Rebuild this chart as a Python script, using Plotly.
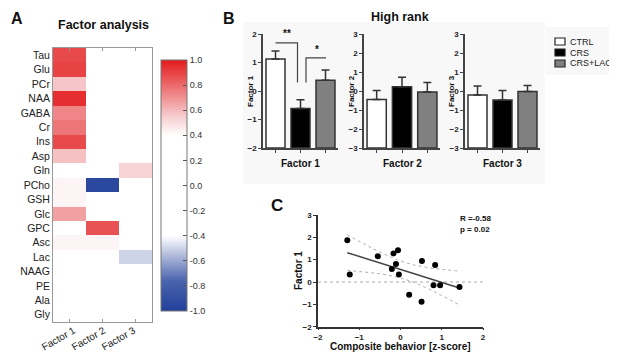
import numpy as np
import plotly.graph_objects as go

# The page body has an 8px margin, so the figure is drawn 8px smaller and every
# reference pixel position is shifted by that margin.
OFF = 8
W, H = 617 - OFF, 352 - OFF
def px(x): return (x - OFF) / W
def py(y): return 1 - (y - OFF) / H

FONT = "Arial, Liberation Sans, sans-serif"

# ---------------- Panel A data ----------------
metabolites = ["Tau", "Glu", "PCr", "NAA", "GABA", "Cr", "Ins", "Asp", "Gln", "PCho",
               "GSH", "Glc", "GPC", "Asc", "Lac", "NAAG", "PE", "Ala", "Gly"]
factors = ["Factor 1", "Factor 2", "Factor 3"]
factor1_load = [0.88, 0.90, 0.57, 0.95, 0.73, 0.77, 0.88, 0.58, 0, 0.43,
                0.43, 0.66, 0, 0.43, 0, 0, 0, 0, 0]
factor2_load = [0, 0, 0, 0, 0, 0, 0, 0, 0, -0.95,
                0, 0, 0.86, 0.43, 0, 0, 0, 0, 0]
factor3_load = [0, 0, 0, 0, 0, 0, 0, 0, 0.53, 0,
                0, 0, 0, 0, -0.50, 0, 0, 0, 0]
cbar_ticks = [1.0, 0.8, 0.6, 0.4, 0.2, 0.0, -0.2, -0.4, -0.6, -0.8, -1.0]

# ---------------- Panel B data ----------------
groups = ["CTRL", "CRS", "CRS+LAC"]
group_colors = ["#ffffff", "#000000", "#808080"]
f1_mean = [1.12, -0.61, 0.38]
f1_err = [0.28, 0.30, 0.36]
f2_mean = [-0.45, 0.23, -0.05]
f2_err = [0.48, 0.50, 0.50]
f3_mean = [-0.21, -0.48, -0.02]
f3_err = [0.47, 0.50, 0.31]

# ---------------- Panel C data ----------------
comp_behavior = [-1.29, -1.23, -0.55, -0.17, -0.06, -0.21, -0.11, -0.04, 0.21, 0.52,
                 0.51, 0.84, 0.80, 0.96, 1.43]
factor1_score = [1.87, 0.34, 1.15, 1.28, 1.42, 0.58, 0.81, 0.34, -0.57, 0.94,
                 -0.88, 0.76, -0.15, -0.15, -0.22]
t_crit = 2.160  # t(0.975, n-2 = 13)

fig = go.Figure()

# ---------- Heatmap ----------
z = np.array([factor1_load, factor2_load, factor3_load]).T
cscale = [[0.0, "#21409a"], [0.12, "#4a64ad"], [0.3, "#ffffff"], [0.7, "#ffffff"],
          [0.78, "#f6c9cb"], [1.0, "#e31a1c"]]
fig.add_trace(go.Heatmap(
    z=z, x=factors, y=metabolites, zmin=-1, zmax=1, colorscale=cscale,
    xaxis="x", yaxis="y", xgap=0, ygap=0, hoverinfo="skip",
    colorbar=dict(x=px(161), xanchor="left", xpad=0, ypad=0,
                  y=py(185.5), yanchor="middle", len=251, lenmode="pixels",
                  thickness=26, thicknessmode="pixels",
                  outlinecolor="#777", outlinewidth=1,
                  tickvals=cbar_ticks, ticktext=[f"{v:.1f}" for v in cbar_ticks],
                  ticks="inside", ticklen=4, tickcolor="#555",
                  tickfont=dict(family=FONT, size=9, color="#333")),
))

# ---------- Bar subplots ----------
bar_sets = [(f1_mean, f1_err, "x2", "y2", -2), (f2_mean, f2_err, "x3", "y3", -3),
            (f3_mean, f3_err, "x4", "y4", -3)]
for means, errs, xa, ya, ymin in bar_sets:
    fig.add_trace(go.Bar(
        x=groups, y=[m - ymin for m in means], base=[ymin] * 3,
        marker=dict(color=group_colors, line=dict(color="#333", width=1.5)),
        xaxis=xa, yaxis=ya, showlegend=False, hoverinfo="skip"))
    fig.add_trace(go.Scatter(
        x=groups, y=means, mode="markers", marker=dict(size=1, opacity=0),
        error_y=dict(type="data", array=errs, arrayminus=[0] * 3, symmetric=False,
                     color="#333", thickness=1.5, width=4),
        xaxis=xa, yaxis=ya, showlegend=False, hoverinfo="skip"))

# ---------- Scatter C ----------
xs = np.array(comp_behavior)
ys = np.array(factor1_score)
n = len(xs)
slope, intercept = np.polyfit(xs, ys, 1)
xm = xs.mean()
sxx = ((xs - xm) ** 2).sum()
se = np.sqrt(((ys - (slope * xs + intercept)) ** 2).sum() / (n - 2))
xg = np.linspace(xs.min(), xs.max(), 60)
yfit = slope * xg + intercept
band = t_crit * se * np.sqrt(1 / n + (xg - xm) ** 2 / sxx)

fig.add_trace(go.Scatter(x=[-2, 2], y=[0, 0], mode="lines",
                         line=dict(color="#aaa", width=1, dash="dot"),
                         xaxis="x5", yaxis="y5", showlegend=False, hoverinfo="skip"))
for sgn in (1, -1):
    fig.add_trace(go.Scatter(x=xg, y=yfit + sgn * band, mode="lines",
                             line=dict(color="#b0b0b0", width=1, dash="dot"),
                             xaxis="x5", yaxis="y5", showlegend=False, hoverinfo="skip"))
fig.add_trace(go.Scatter(x=xg, y=yfit, mode="lines", line=dict(color="#444", width=1.5),
                         xaxis="x5", yaxis="y5", showlegend=False, hoverinfo="skip"))
fig.add_trace(go.Scatter(x=xs, y=ys, mode="markers", marker=dict(color="black", size=6),
                         xaxis="x5", yaxis="y5", showlegend=False, hoverinfo="skip"))

# ---------- Layout ----------
tickf = dict(family=FONT, size=8, color="#222", weight="bold")
bar_x = dict(type="category", showline=True, linecolor="#444", linewidth=1.5,
             ticks="outside", ticklen=3, tickcolor="#444", showticklabels=False,
             showgrid=False, zeroline=False, fixedrange=True, automargin=False)
def bar_y(rng, dtick, anchor):
    return dict(range=rng, dtick=dtick, showline=True, linecolor="#444", linewidth=1.5,
                ticks="outside", ticklen=3, tickcolor="#444", tickfont=tickf,
                showgrid=False, zeroline=False, anchor=anchor, domain=[py(148), py(34)],
                automargin=False)

layout = dict(
    template="none",
    width=W, height=H, margin=dict(l=0, r=0, t=0, b=0, autoexpand=False),
    paper_bgcolor="white", plot_bgcolor="rgba(0,0,0,0)",
    bargap=0.24, showlegend=False, font=dict(family=FONT),
    xaxis=dict(domain=[px(53), px(152)], anchor="y", showline=True, mirror="ticks",
               linecolor="#999", linewidth=1, ticks="inside", ticklen=3, tickcolor="#999",
               showticklabels=False, showgrid=False, zeroline=False, automargin=False),
    yaxis=dict(domain=[py(322), py(48)], anchor="x", autorange="reversed", showline=True,
               mirror=True, linecolor="#999", linewidth=1, ticks="",
               tickfont=dict(family=FONT, size=10.5, color="#222"),
               showgrid=False, zeroline=False, automargin=False),
    xaxis2=dict(bar_x, domain=[px(263), px(338)], anchor="y2"),
    yaxis2=bar_y([-2, 2], 1, "x2"),
    xaxis3=dict(bar_x, domain=[px(364), px(440)], anchor="y3"),
    yaxis3=bar_y([-3, 3], 1, "x3"),
    xaxis4=dict(bar_x, domain=[px(465), px(540)], anchor="y4"),
    yaxis4=bar_y([-3, 3], 1, "x4"),
    xaxis5=dict(domain=[px(318), px(483)], anchor="y5", range=[-2, 2], dtick=1,
                showline=True, linecolor="#333", linewidth=1.5, ticks="outside", ticklen=2,
                tickcolor="#333", tickfont=tickf, showgrid=False, zeroline=False,
                automargin=False),
    yaxis5=dict(domain=[py(326.7), py(215)], anchor="x5", range=[-2, 3], dtick=1,
                showline=True, linecolor="#333", linewidth=1.5, ticks="outside", ticklen=3,
                tickcolor="#333", tickfont=tickf, showgrid=False, zeroline=False,
                automargin=False),
)
fig.update_layout(**layout)

shapes = [dict(type="rect", xref="paper", yref="paper", x0=px(243), x1=px(545),
               y0=py(184), y1=py(22), fillcolor="#f8f8f8", line=dict(width=0), layer="below"),
          dict(type="rect", xref="paper", yref="paper", x0=px(546), x1=px(617),
               y0=py(75), y1=py(27), fillcolor="#f8f8f8", line=dict(width=0), layer="below")]
# significance brackets (Factor 1)
shapes.append(dict(type="path", xref="x2", yref="y2",
                   path="M 0,1.69 L 0.88,1.69 L 0.88,0.30", line=dict(color="#444", width=1.2)))
shapes.append(dict(type="path", xref="x2", yref="y2",
                   path="M 1.22,0.30 L 1.22,1.16 L 2.02,1.16", line=dict(color="#444", width=1.2)))
# manual legend boxes
leg_y = [41.5, 52.5, 63.5]
for c, yy in zip(group_colors, leg_y):
    shapes.append(dict(type="rect", xref="paper", yref="paper", x0=px(555), x1=px(565),
                       y0=py(yy + 3.5), y1=py(yy - 3.5), fillcolor=c,
                       line=dict(color="#222", width=1.2)))
fig.update_layout(shapes=shapes)

ann = []
def A(x, y, text, size, bold=False, xanchor="center", angle=0, color="#111",
      yanchor="middle"):
    ann.append(dict(xref="paper", yref="paper", x=px(x), y=py(y), text=text,
                    showarrow=False, xanchor=xanchor, yanchor=yanchor, textangle=angle,
                    font=dict(family=FONT, size=size, color=color,
                              weight="bold" if bold else "normal")))
A(9, 8, "A", 16, True, xanchor="left", yanchor="top")
A(221, 8, "B", 16, True, xanchor="left", yanchor="top")
A(277, 205, "C", 17, True)
A(103, 25, "Factor analysis", 12.5, True)
A(400, 8, "High rank", 12.5, True, yanchor="top")
# heatmap column labels (rotated)
for f, cx in zip(factors, [58.5, 88.5, 118.5]):
    A(cx, 338.5, f, 10, False, angle=-30, color="#222")
# bar panel axis titles
A(300.5, 163, "Factor 1", 10, True)
A(402, 163, "Factor 2", 10, True)
A(502.5, 163, "Factor 3", 10, True)
A(250, 91, "Factor 1", 8, True, angle=-90)
A(351, 91, "Factor 2", 8, True, angle=-90)
A(451, 91, "Factor 3", 8, True, angle=-90)
A(287, 33, "**", 10, True)
A(317, 49, "*", 10, True)
for g, yy in zip(groups, leg_y):
    A(568, yy, g, 9, False, xanchor="left", color="#222")
# scatter annotations
A(400.5, 346, "Composite behavior [z-score]", 10, True)
A(298, 271, "Factor 1", 10, True, angle=-90)
A(458, 218, "R =-0.58", 8, True, xanchor="left")
A(458, 229, "p = 0.02", 8, True, xanchor="left")
fig.update_layout(annotations=ann)

fig.write_html("out.html")
